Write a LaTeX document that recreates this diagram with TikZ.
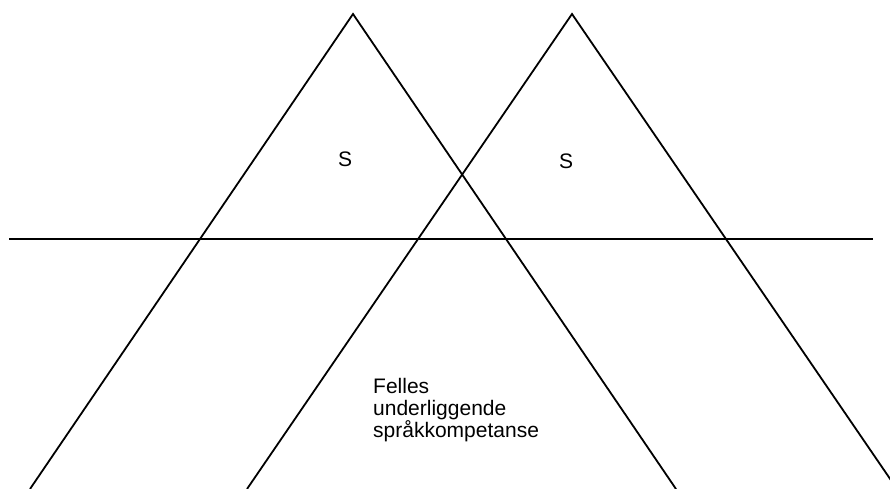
\documentclass[tikz,border=0pt]{standalone}
\usepackage{fontspec}
\setmainfont{Liberation Sans}
\begin{document}
\begin{tikzpicture}[x=1pt,y=-1pt,
  edge/.style={line width=1.8pt, line join=miter},
  label/.style={inner sep=0pt, font=\fontsize{21}{22}\selectfont}]
\useasboundingbox (0,0) rectangle (890,488);
\clip (0,0) rectangle (890,488);
% first triangle
\coordinate (apexA) at (353,14);
\coordinate (leftA) at (30,489);
\coordinate (rightA) at (676,489);
% second triangle
\coordinate (apexB) at (572,14);
\coordinate (leftB) at (247,489);
\coordinate (rightB) at (897,489);
% horizontal divider
\coordinate (lineL) at (9,239);
\coordinate (lineR) at (873,239);

\draw[edge] (leftA) -- (apexA) -- (rightA);
\draw[edge] (leftB) -- (apexB) -- (rightB);
\draw[line width=1.5pt] (lineL) -- (lineR);

\node[label, anchor=base] (sA) at (345,166) {S};
\node[label, anchor=base] (sB) at (566,168) {S};
\node[label, anchor=base west] (felles) at (373,393) {Felles};
\node[label, anchor=base west] (under) at (373,415) {underliggende};
\node[label, anchor=base west] (sprak) at (373,437) {språkkompetanse};
\end{tikzpicture}
\end{document}
